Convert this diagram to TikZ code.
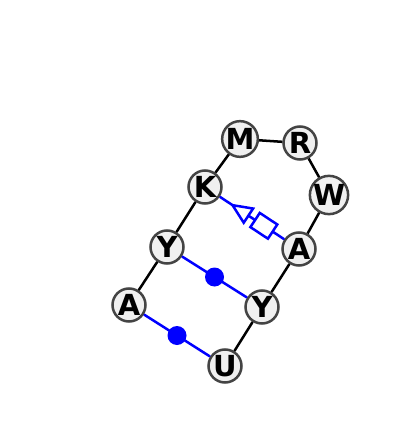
\documentclass[tikz,border=0pt]{standalone}
\usepackage{fontspec}
\setsansfont{DejaVu Sans}
\usetikzlibrary{calc}
\definecolor{nodefill}{HTML}{F0F0F0}
\definecolor{nodeline}{HTML}{444444}
\begin{document}
\begin{tikzpicture}[x=1pt, y=-1pt,
	every node/.style={circle, draw=nodeline, fill=nodefill, line width=2.5pt, minimum size=33pt, inner sep=0pt, font=\sffamily\bfseries\fontsize{29}{29}\selectfont},
	backbone/.style={line width=2.5pt, black},
	pairline/.style={line width=2.5pt, blue}]
	\useasboundingbox (0,0) rectangle (400,446);

	\node (m) at (240,139) {M};
	\node (r) at (300,143) {R};
	\node (w) at (329,195) {W};
	\node (a2) at (299,249) {A};
	\node (y2) at (262,307) {Y};
	\node (u) at (225,366) {U};
	\node (a1) at (129,305) {A};
	\node (y1) at (167,247) {Y};
	\node (k) at (205,187) {K};

	% backbone
	\draw[backbone] (a1) -- (y1) -- (k) -- (m) -- (r) -- (w) -- (a2) -- (y2) -- (u);

	% pairs
	\draw[pairline] (y1) -- (y2);
	\fill[blue] ($(y1)!0.5!(y2)$) circle (9.5pt);
	\draw[pairline] (a1) -- (u);
	\fill[blue] ($(a1)!0.5!(u)$) circle (9.5pt);

	\draw[pairline] (k) -- (a2);
	\coordinate (tribase) at ($(k)!52pt!(a2)$);
	\coordinate (boxstart) at ($(k)!60pt!(a2)$);
	\coordinate (boxend) at ($(k)!81pt!(a2)$);
	\draw[pairline, fill=white] ($(k)!33pt!(a2)$) -- ($(tribase)!8.5pt!90:(a2)$) -- ($(tribase)!8.5pt!-90:(a2)$) -- cycle;
	\draw[pairline, fill=white] ($(boxstart)!8.5pt!90:(a2)$) -- ($(boxend)!8.5pt!90:(a2)$) -- ($(boxend)!8.5pt!-90:(a2)$) -- ($(boxstart)!8.5pt!-90:(a2)$) -- cycle;
\end{tikzpicture}
\end{document}
